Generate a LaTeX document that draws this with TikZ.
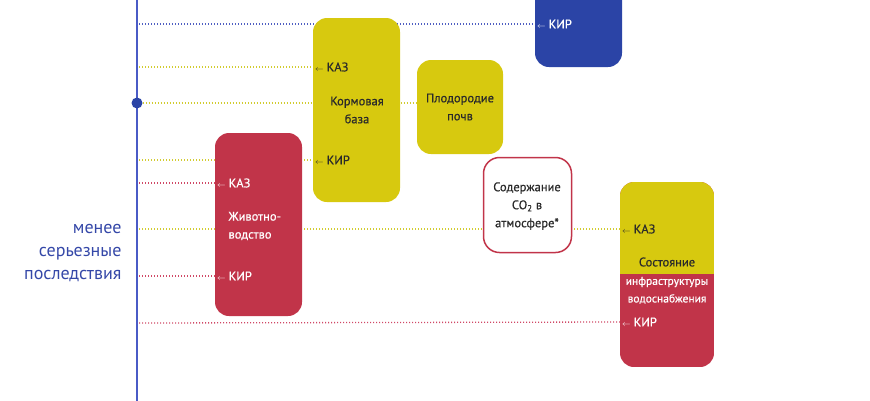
\documentclass[tikz,border=0pt]{standalone}
\usepackage{fontspec}
\setmainfont{PT Sans}
\newfontfamily\boxfont{PT Sans}[FakeBold=0.6]
\usetikzlibrary{backgrounds}
\definecolor{kblue}{HTML}{2B44A6}
\definecolor{kyellow}{HTML}{D7C90F}
\definecolor{kred}{HTML}{C13449}
\definecolor{kaxis}{HTML}{4A5BC6}
\definecolor{klabel}{HTML}{3548A8}
\definecolor{ktext}{HTML}{2A2A2A}
\definecolor{kyline}{HTML}{D2CC30}
\definecolor{krline}{HTML}{D04866}
\definecolor{kbline}{HTML}{4F5EC2}
\newcommand{\arr}{{\fontsize{8}{8}\selectfont$\leftarrow$}\hspace{3pt}}

\begin{document}
\begin{tikzpicture}[x=1pt,y=-1pt,
  box/.style={rounded corners=14pt, inner sep=0pt},
  tag/.style={anchor=west, inner sep=2pt, font=\boxfont\fontsize{12.5}{14}\selectfont},
  lbl/.style={align=center, font=\boxfont\fontsize{12.5}{18}\selectfont},
  dotline/.style={line width=1.3pt, dash pattern=on 1.1pt off 1.9pt}]
\useasboundingbox (0,0) rectangle (870,400);
\clip (0,0) rectangle (870,400);

% axis
\draw[kaxis, line width=1.2pt] (137,-5) -- (137,405);
\node[circle, fill=kblue, minimum size=11pt, inner sep=0pt] (dot) at (137,103) {};
\node[anchor=east, align=right, text=klabel, font=\fontsize{18}{23}\selectfont] (less) at (125,253) {менее\\серьезные\\последствия};

% boxes
\node[box, fill=kblue, minimum width=87pt, minimum height=110pt] (blue) at (578.5,12) {};
\node[tag, text=white] (kirB) at (535,24) {\arr КИР};

\node[box, fill=kyellow, minimum width=87pt, minimum height=184pt] (korm) at (356.5,110) {};
\node[lbl, text=ktext] (kormT) at (357,110) {Кормовая\\база};
\node[tag, text=ktext] (kazK) at (313,67) {\arr КАЗ};
\node[tag, text=ktext] (kirK) at (313,160) {\arr КИР};

\node[box, fill=kyellow, minimum width=86pt, minimum height=94pt] (plod) at (460,107) {};
\node[lbl, text=ktext] (plodT) at (plod) {Плодородие\\почв};

\node[box, fill=kred, minimum width=87pt, minimum height=183pt] (zhiv) at (258.5,224.5) {};
\node[lbl, align=left, anchor=west, text=white] (zhivT) at (225,226) {Животно-\\водство};
\node[tag, text=white] (kazZ) at (215,183) {\arr КАЗ};
\node[tag, text=white] (kirZ) at (215,276) {\arr КИР};

\node[box, rounded corners=16pt, fill=white, draw=kred, line width=1.5pt, minimum width=88pt, minimum height=95pt] (co) at (527.5,205) {};
\node[lbl, text=ktext] (coT) at (527,206) {Содержание\\CO\textsubscript{2} в\\атмосфере*};

\begin{scope}
\clip[rounded corners=14pt] (620,182) rectangle (714,367);
\fill[kred] (620,182) rectangle (714,367);
\fill[kyellow] (620,182) rectangle (714,274);
\end{scope}
\node[lbl, text=ktext] (sostA) at (667,262) {Состояние};
\node[lbl, text=white, font=\boxfont\fontsize{11.5}{18}\selectfont] (sostB) at (667,282) {инфраструктуры};
\node[lbl, text=white, font=\boxfont\fontsize{11.5}{18}\selectfont] (sostC) at (667,299) {водоснабжения};
\node[tag, text=ktext] (kazS) at (620,229) {\arr КАЗ};
\node[tag, text=white] (kirS) at (620,322) {\arr КИР};

% dotted connectors
\begin{scope}[on background layer]
\coordinate (a1) at (139,24);
\coordinate (a2) at (139,67);
\coordinate (a4) at (139,160);
\coordinate (a5) at (139,183);
\coordinate (a6) at (139,229);
\coordinate (a7) at (139,276);
\coordinate (a8) at (139,323);
\draw[dotline, kbline] (a1) -- (kirB.west);
\draw[dotline, kyline] (a2) -- (kazK.west);
\draw[dotline, kyline] (dot.east) -- (dot -| plod.west);
\draw[dotline, kyline] (a4) -- (kirK.west);
\draw[dotline, krline] (a5) -- (kazZ.west);
\draw[dotline, kyline] (a6) -- (kazS.west);
\draw[dotline, krline] (a7) -- (kirZ.west);
\draw[dotline, krline] (a8) -- (kirS.west);
\end{scope}
\end{tikzpicture}
\end{document}
